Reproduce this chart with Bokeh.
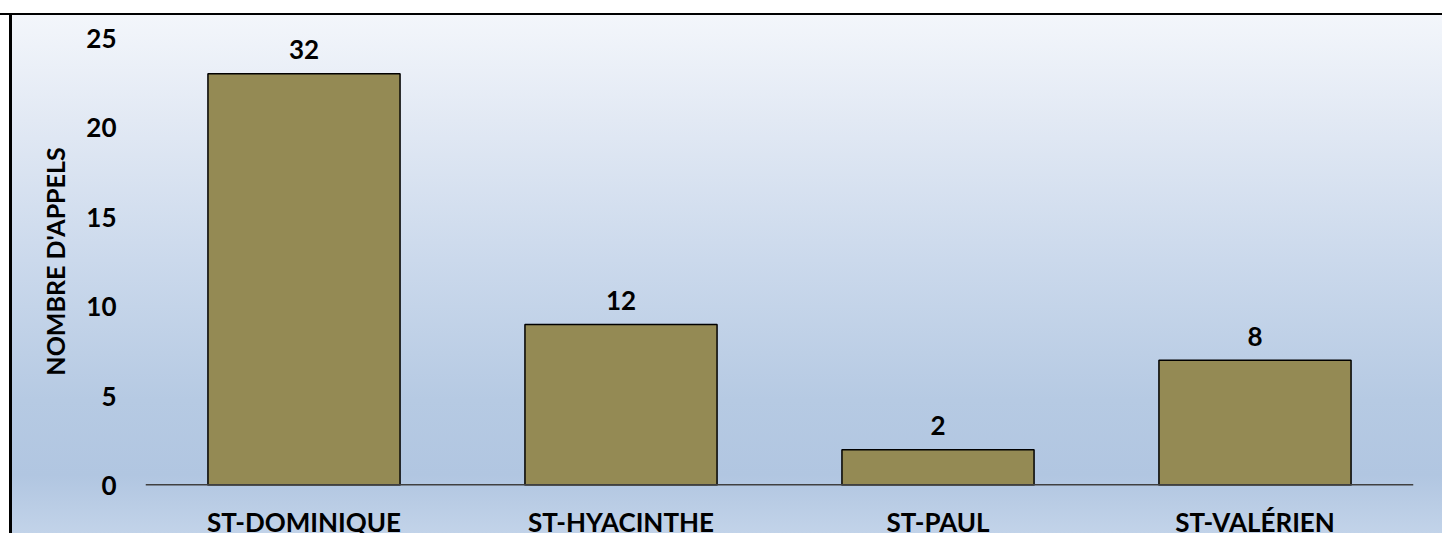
from bokeh.plotting import figure
from bokeh.models import Range1d, FactorRange, FixedTicker, Span, ColumnDataSource
from bokeh.core.properties import value
from bokeh.embed import file_html
from bokeh.resources import INLINE

categories = ["ST-DOMINIQUE", "ST-HYACINTHE", "ST-PAUL", "ST-VALÉRIEN"]
calls = [23, 9, 2, 7]
data_labels = ["32", "12", "2", "8"]
y_ticks = [0, 5, 10, 15, 20, 25]
y_title = "NOMBRE D'APPELS"

FONT = "Lato"

src = ColumnDataSource(dict(cat=categories, calls=calls, lab=data_labels,
                            base=[0] * len(categories)))

p = figure(width=1442, height=533,
           x_range=FactorRange(*categories),
           y_range=Range1d(0, 25.03),
           output_backend="svg", toolbar_location=None,
           min_border_left=145, min_border_right=29,
           min_border_top=37, min_border_bottom=48)

p.background_fill_alpha = 0
p.border_fill_alpha = 0
p.outline_line_color = None
p.styles = {
    "background": (
        "linear-gradient(to bottom, #ffffff 0px, #ffffff 13px, #000000 13px, #000000 15.5px, transparent 15.5px),"
        "linear-gradient(to right, #ffffff 0px, #ffffff 9.5px, #000000 9.5px, #000000 12px, transparent 12px),"
        "linear-gradient(to bottom, #f3f6fb 15px, #e2e9f4 120px, #cbd9ec 260px, #b6cae3 400px, #b1c6e1 475px, #c2d3e9 533px)"
    )
}

p.vbar(x="cat", top="calls", width=0.606, source=src,
       fill_color="#948a54", line_color="#000000", line_width=1.5)

p.add_layout(Span(location=0, dimension="width", line_color="#404040", line_width=3))

p.text(x="cat", y="calls", text="lab", source=src,
       text_font=value(FONT), text_font_size="26px", text_font_style="bold",
       text_color="#000000", text_align="center", text_baseline="alphabetic",
       y_offset=-24)

p.text(x="cat", y="base", text="cat", source=src, level="overlay",
       text_font=value(FONT), text_font_size="26px", text_font_style="bold",
       text_color="#000000", text_align="center", text_baseline="alphabetic",
       y_offset=36)

p.xaxis.visible = False
p.xgrid.visible = False
p.ygrid.visible = False

ya = p.yaxis[0]
ya.ticker = FixedTicker(ticks=y_ticks)
ya.axis_line_color = None
ya.major_tick_line_color = None
ya.minor_tick_line_color = None
ya.major_label_standoff = 23
ya.major_label_text_font = FONT
ya.major_label_text_font_size = "26px"
ya.major_label_text_font_style = "bold"
ya.major_label_text_color = "#000000"
ya.axis_label = y_title
ya.axis_label_text_font = FONT
ya.axis_label_text_font_size = "25px"
ya.axis_label_text_font_style = "bold"
ya.axis_label_text_color = "#000000"
ya.axis_label_standoff = 13

open("out.html", "w").write(file_html(p, INLINE))
